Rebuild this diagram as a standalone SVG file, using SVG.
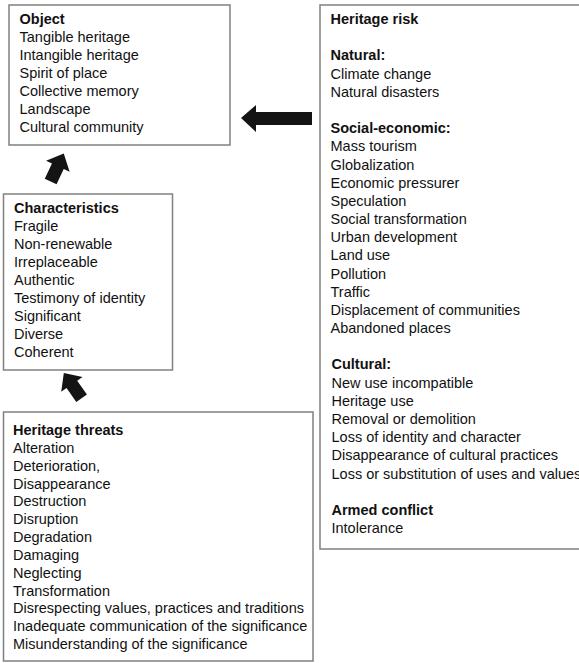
<svg xmlns="http://www.w3.org/2000/svg" width="579" height="663" viewBox="0 0 579 663">
<defs>
<style>
.box{fill:#fff;stroke:#808080;stroke-width:1.5}
.t{font-family:"Liberation Sans",Arial,sans-serif;font-size:14.5px;fill:#111}
.b{font-weight:bold}
.arr{fill:#141414}
</style>
<polygon id="up" points="0,-16 13,-2 6.5,-2 6.5,15 -6.5,15 -6.5,-2 -13,-2"/>
</defs>
<rect width="579" height="663" fill="#fff"/>
<g id="object">
<rect class="box" x="9" y="5" width="221" height="140"/>
<text class="t" x="19.5">
<tspan class="b" x="19.5" y="24">Object</tspan>
<tspan x="19.5" y="42">Tangible heritage</tspan>
<tspan x="19.5" y="60">Intangible heritage</tspan>
<tspan x="19.5" y="78">Spirit of place</tspan>
<tspan x="19.5" y="96">Collective memory</tspan>
<tspan x="19.5" y="114">Landscape</tspan>
<tspan x="19.5" y="132">Cultural community</tspan>
</text>
</g>
<g id="risk">
<rect class="box" x="320" y="5" width="270" height="544"/>
<text class="t">
<tspan class="b" x="330.5" y="24">Heritage risk</tspan>
<tspan class="b" x="330.5" y="60.4">Natural:</tspan>
<tspan x="330.5" y="78.5">Climate change</tspan>
<tspan x="330.5" y="96.7">Natural disasters</tspan>
<tspan class="b" x="330.5" y="133.1">Social-economic:</tspan>
<tspan x="330.5" y="151.3">Mass tourism</tspan>
<tspan x="330.5" y="169.5">Globalization</tspan>
<tspan x="330.5" y="187.6">Economic pressurer</tspan>
<tspan x="330.5" y="205.8">Speculation</tspan>
<tspan x="330.5" y="224">Social transformation</tspan>
<tspan x="330.5" y="242.2">Urban development</tspan>
<tspan x="330.5" y="260.4">Land use</tspan>
<tspan x="330.5" y="278.5">Pollution</tspan>
<tspan x="330.5" y="296.7">Traffic</tspan>
<tspan x="330.5" y="314.9">Displacement of communities</tspan>
<tspan x="330.5" y="333.1">Abandoned places</tspan>
<tspan class="b" x="331.5" y="369.4">Cultural:</tspan>
<tspan x="331.5" y="387.6">New use incompatible</tspan>
<tspan x="331.5" y="405.8">Heritage use</tspan>
<tspan x="331.5" y="424">Removal or demolition</tspan>
<tspan x="331.5" y="442.2">Loss of identity and character</tspan>
<tspan x="331.5" y="460.4">Disappearance of cultural practices</tspan>
<tspan x="331.5" y="478.5">Loss or substitution of uses and values</tspan>
<tspan class="b" x="331.5" y="514.9">Armed conflict</tspan>
<tspan x="331.5" y="533">Intolerance</tspan>
</text>
</g>
<g id="characteristics">
<rect class="box" x="3.5" y="194" width="169" height="176"/>
<text class="t">
<tspan class="b" x="14" y="213">Characteristics</tspan>
<tspan x="14" y="231">Fragile</tspan>
<tspan x="14" y="249">Non-renewable</tspan>
<tspan x="14" y="267">Irreplaceable</tspan>
<tspan x="14" y="285">Authentic</tspan>
<tspan x="14" y="303">Testimony of identity</tspan>
<tspan x="14" y="321">Significant</tspan>
<tspan x="14" y="339">Diverse</tspan>
<tspan x="14" y="357">Coherent</tspan>
</text>
</g>
<g id="threats">
<rect class="box" x="3.5" y="412" width="309.5" height="249"/>
<text class="t">
<tspan class="b" x="13" y="435">Heritage threats</tspan>
<tspan x="13" y="452.8">Alteration</tspan>
<tspan x="13" y="470.7">Deterioration,</tspan>
<tspan x="13" y="488.5">Disappearance</tspan>
<tspan x="13" y="506.3">Destruction</tspan>
<tspan x="13" y="524.2">Disruption</tspan>
<tspan x="13" y="542">Degradation</tspan>
<tspan x="13" y="559.8">Damaging</tspan>
<tspan x="13" y="577.6">Neglecting</tspan>
<tspan x="13" y="595.5">Transformation</tspan>
<tspan x="13" y="613.3">Disrespecting values, practices and traditions</tspan>
<tspan x="13" y="631.1">Inadequate communication of the significance</tspan>
<tspan x="13" y="649">Misunderstanding of the significance</tspan>
</text>
</g>
<g id="connectors">
<polygon class="arr" points="241,118 256,105 256,112 312,112 312,125 256,125 256,132"/>
<use href="#up" class="arr" transform="translate(57,168) rotate(25)"/>
<use href="#up" class="arr" transform="translate(73,386) rotate(-35)"/>
</g>
</svg>
